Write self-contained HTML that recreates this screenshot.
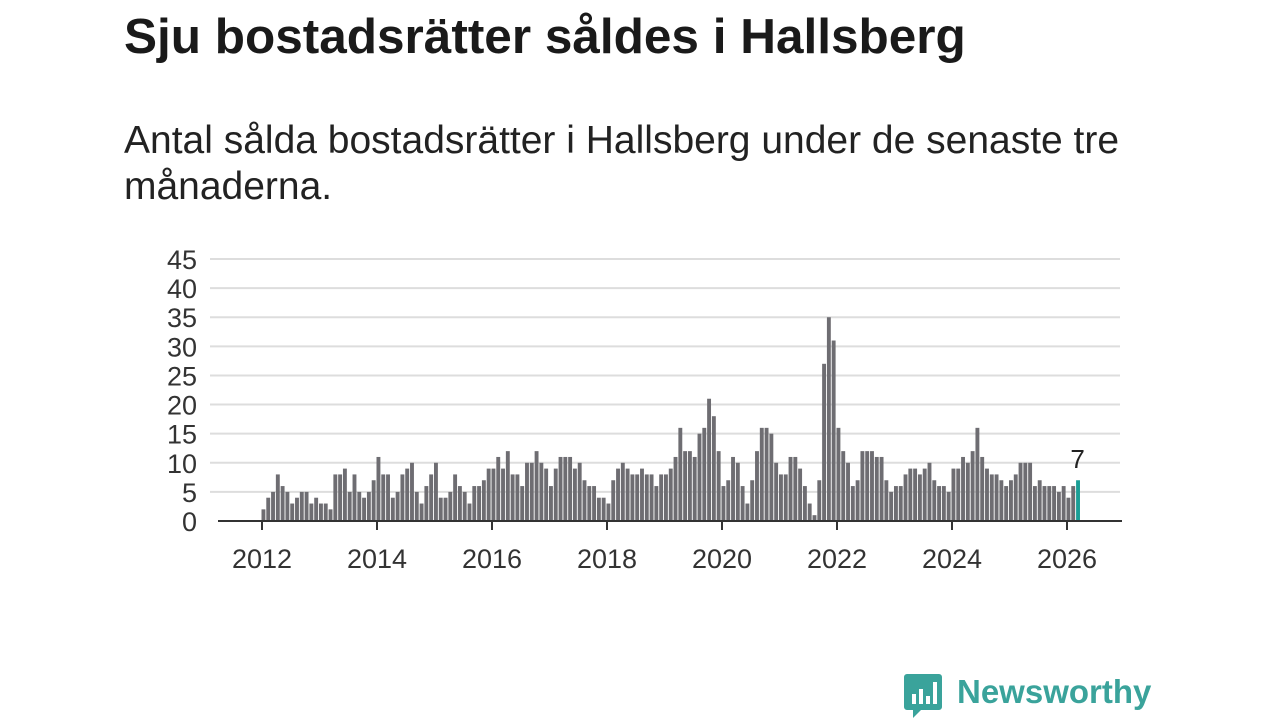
<!DOCTYPE html>
<html><head><meta charset="utf-8">
<style>
body{margin:0;width:1280px;height:720px;background:#fff;font-family:"Liberation Sans",sans-serif;overflow:hidden;position:relative}
#title{position:absolute;left:124px;top:8px;font-size:49.5px;font-weight:bold;color:#1a1a1a;margin:0;white-space:nowrap}
#sub{position:absolute;left:124px;top:118px;font-size:39px;line-height:46px;color:#222;width:1080px}
svg{position:absolute;left:0;top:0}
</style></head><body>
<h1 id="title">Sju bostadsrätter såldes i Hallsberg</h1>
<div id="sub">Antal sålda bostadsrätter i Hallsberg under de senaste tre månaderna.</div>
<svg id="chart" width="1280" height="720"></svg>
<script>
const values=[2,4,5,8,6,5,3,4,5,5,3,4, 3,3,2,8,8,9,5,8,5,4,5,7, 11,8,8,4,5,8,9,10,5,3,6,8, 10,4,4,5,8,6,5,3,6,6,7,9, 9,11,9,12,8,8,6,10,10,12,10,9, 6,9,11,11,11,9,10,7,6,6,4,4, 3,7,9,10,9,8,8,9,8,8,6,8, 8,9,11,16,12,12,11,15,16,21,18,12, 6,7,11,10,6,3,7,12,16,16,15,10, 8,8,11,11,9,6,3,1,7,27,35,31, 16,12,10,6,7,12,12,12,11,11,7,5, 6,6,8,9,9,8,9,10,7,6,6,5, 9,9,11,10,12,16,11,9,8,8,7,6, 7,8,10,10,10,6,7,6,6,6,5,6, 4,6,7];
const yTicks=[0,5,10,15,20,25,30,35,40,45];
const xTicks=[2012,2014,2016,2018,2020,2022,2024,2026];
const startYear=2012;
const NS='http://www.w3.org/2000/svg';
const svg=document.getElementById('chart');
const y0=521,yTop=259,yMax=45;
const y=v=>y0-(v/yMax)*(y0-yTop);
const x=t=>262+(t-startYear)*57.5;
function el(tag,attrs){const e=document.createElementNS(NS,tag);for(const k in attrs)e.setAttribute(k,attrs[k]);svg.appendChild(e);return e;}
yTicks.forEach(t=>{
 if(t>0){const g=el('line',{x1:210,x2:1120,y1:y(t),y2:y(t),stroke:'#ddd','stroke-width':2});
 
 }
 const tx=el('text',{x:197,y:y(t)+10,'text-anchor':'end','font-size':27,fill:'#333','font-family':'Liberation Sans, sans-serif'});
 tx.textContent=t;
 
 
});
const bw=57.5/12;
values.forEach((v,i)=>{
 const last=i===values.length-1;
 const cx=x(startYear+i/12);
 const r=el('rect',{x:cx-0.5,y:y(v),width:bw-0.9,height:y0-y(v),fill:last?'#1a9e96':'#6e6d72'});
 
 
 if(last){const t=el('text',{x:cx+1,y:y(v)-12,'text-anchor':'middle','font-size':26,fill:'#222','font-family':'Liberation Sans, sans-serif'});
 t.textContent=v;
 
 }
});
const ax=el('line',{x1:218,x2:1122,y1:y0,y2:y0,stroke:'#333','stroke-width':2});


xTicks.forEach(t=>{
 const l=el('line',{x1:x(t),x2:x(t),y1:y0,y2:y0+9,stroke:'#333','stroke-width':2});
 
 
 const tx=el('text',{x:x(t),y:568,'text-anchor':'middle','font-size':27,fill:'#333','font-family':'Liberation Sans, sans-serif'});
 tx.textContent=t;
 
 
});
</script>
<div style="position:absolute;left:903px;top:672px;display:flex;align-items:center">
<svg width="40" height="48" viewBox="0 0 40 48" style="position:static"><path d="M4 2h32a3 3 0 0 1 3 3v30a3 3 0 0 1-3 3H18l-8 8v-8H4a3 3 0 0 1-3-3V5a3 3 0 0 1 3-3z" fill="#3aa39b"/><rect x="9" y="22" width="4" height="10" fill="#fff"/><rect x="16" y="17" width="4" height="15" fill="#fff"/><rect x="23" y="24" width="4" height="8" fill="#fff"/><rect x="30" y="10" width="4" height="22" fill="#fff"/></svg>
<span style="font-size:33px;font-weight:bold;color:#3aa39b;margin-left:14px;margin-top:-8px">Newsworthy</span></div>
</body></html>
